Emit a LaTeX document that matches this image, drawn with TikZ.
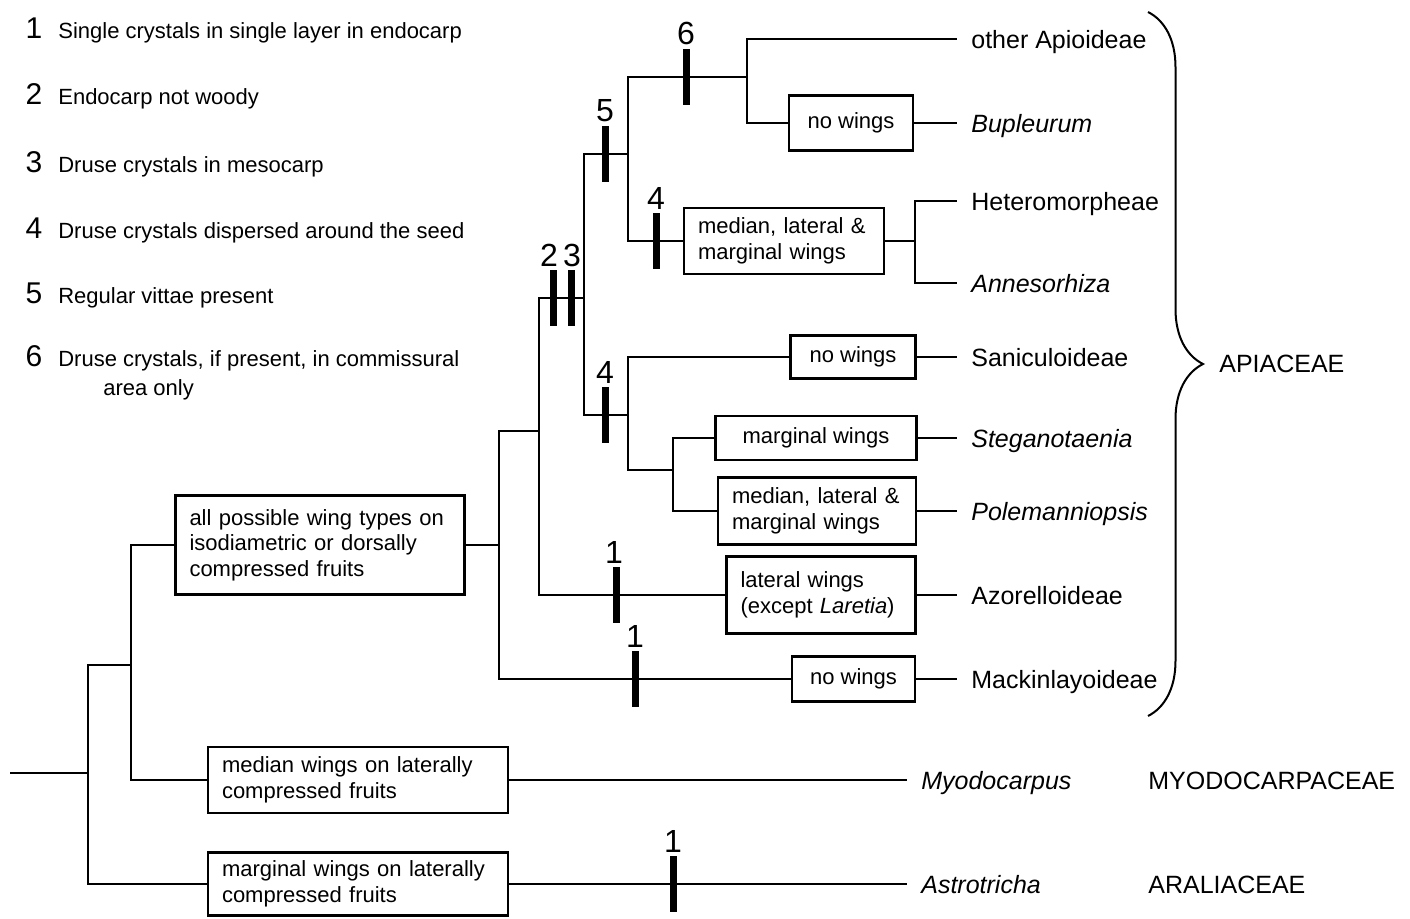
\documentclass[tikz,border=0pt]{standalone}
\usepackage{fontspec}
\setmainfont{Liberation Sans}
\usepackage{tikz}
\usetikzlibrary{decorations.pathreplacing}

\begin{document}
\begin{tikzpicture}[x=0.5pt, y=-0.5pt, line width=1.35pt,
  wbox/.style={draw, line width=1.35pt, inner xsep=7pt, inner ysep=0pt, align=left, font=\fontsize{11}{12.8}\selectfont},
  wcen/.style={wbox, align=center},
  tick/.style={fill=black, inner sep=0pt, minimum width=3.5pt, minimum height=28pt, label distance=1.5pt},
  num/.style={font=\fontsize{16}{16}\selectfont, inner sep=0.5pt},
  taxon/.style={anchor=west, inner xsep=6.5pt, inner ysep=0pt, text height=9pt, text depth=0pt, font=\fontsize{12.5}{15}\selectfont},
  fam/.style={taxon, inner xsep=0pt},
  key/.style={anchor=base, inner sep=0pt, font=\fontsize{15}{15}\selectfont},
  keytxt/.style={anchor=base west, inner sep=0pt, font=\fontsize{11}{13}\selectfont}]
  \useasboundingbox (0,0) rectangle (1410,918);

  \foreach \n/\txt/\y in {1/Single crystals in single layer in endocarp/38, 2/Endocarp not woody/104, 3/Druse crystals in mesocarp/172, 4/Druse crystals dispersed around the seed/238, 5/Regular vittae present/303, 6/{Druse crystals, if present, in commissural}/366} {
    \node[key] (d\n) at (34,\y) {\n};
    \node[keytxt] (c\n) at (57,\y) {\txt};
  }
  \node[keytxt] (c6b) at (102,395) {area only};

  \coordinate (root) at (10,773);
  \coordinate (n1) at (88,773);
  \coordinate (n2) at (131,665);
  \coordinate (n3) at (499,545);
  \coordinate (n4) at (539,431);
  \coordinate (n5) at (584,298);
  \coordinate (n6) at (628,154);
  \coordinate (n7) at (747,77);
  \coordinate (n8) at (628,415);
  \coordinate (n9) at (673,470);
  \coordinate (n10) at (915,241);

  \node[wcen, minimum width=62pt, minimum height=27.5pt] (nowA) at (851,123) {no wings};
  \node[wbox, text width=86pt, minimum height=33pt] (medA) at (784,241) {median, lateral \&\\marginal wings};
  \node[wcen, minimum width=62.5pt, minimum height=21.5pt] (nowB) at (853,357) {no wings};
  \node[wcen, minimum width=100.5pt, minimum height=22pt] (margA) at (816,438) {marginal wings};
  \node[wbox, text width=85pt, minimum height=33.5pt] (medB) at (817,511) {median, lateral \&\\marginal wings};
  \node[wbox, text width=80.5pt, minimum height=38.5pt] (latw) at (821,595) {lateral wings\\(except \textit{Laretia})};
  \node[wcen, minimum width=61.5pt, minimum height=22.5pt] (nowC) at (853.5,679) {no wings};
  \node[wbox, text width=130.5pt, minimum height=49.5pt] (allw) at (320,545) {all possible wing types on\\isodiametric or dorsally\\compressed fruits};
  \node[wbox, text width=136pt, minimum height=33pt] (medw) at (358,780) {median wings on laterally\\compressed fruits};
  \node[wbox, text width=136pt, minimum height=31.5pt] (margw) at (358,884) {marginal wings on laterally\\compressed fruits};

  \node[taxon] (oth) at (957,39) {other Apioideae};
  \node[taxon] (bup) at (957,123) {\textit{Bupleurum}};
  \node[taxon] (het) at (957,201) {Heteromorpheae};
  \node[taxon] (ann) at (957,283) {\textit{Annesorhiza}};
  \node[taxon] (san) at (957,357) {Saniculoideae};
  \node[taxon] (ste) at (957,438) {\textit{Steganotaenia}};
  \node[taxon] (pol) at (957,511) {\textit{Polemanniopsis}};
  \node[taxon] (azo) at (957,595) {Azorelloideae};
  \node[taxon] (mac) at (957,679) {Mackinlayoideae};
  \node[taxon] (myo) at (907,780) {\textit{Myodocarpus}};
  \node[taxon] (ast) at (907,884) {\textit{Astrotricha}};
  \node[fam] (api) at (1218,363) {APIACEAE};
  \node[fam] (myf) at (1147,780) {MYODOCARPACEAE};
  \node[fam] (arf) at (1147,884) {ARALIACEAE};

  \draw (root) -- (n1);
  \foreach \a/\b in {n1/n2, n1/margw.west, n2/allw.west, n2/medw.west, n3/n4, n3/nowC.west, n4/n5, n4/latw.west, n5/n6, n5/n8, n6/n7, n6/medA.west, n7/oth.west, n7/nowA.west, n10/het.west, n10/ann.west, n8/nowB.west, n8/n9, n9/margA.west, n9/medB.west} \draw (\a) |- (\b);
  \foreach \a/\b in {allw/n3, medA/n10} \draw (\a.east) -- (\b);
  \foreach \a/\b in {nowA/bup, nowB/san, margA/ste, medB/pol, latw/azo, nowC/mac, medw/myo, margw/ast} \draw (\a.east) -- (\b.west);

  \foreach \k/\x/\y/\l/\s in {k6/686/77/6/0, k5/605/154/5/0, k4a/656/241/4/0, k2/553/298/2/-2, k3/571/298/3/0.5, k4b/605/415/4/0, k1a/616/595/1/-1, k1b/635/679/1/0, k1c/673/884/1/0}
    \node[tick, label={[num, xshift=\s pt]above:\l}] (\k) at (\x,\y) {};

  \coordinate (bt) at (1148,12);
  \coordinate (bb) at (1148,716);
  \draw[decorate, decoration={brace, amplitude=27.5pt}, line width=1pt] (bt) -- (bb);
\end{tikzpicture}
\end{document}
